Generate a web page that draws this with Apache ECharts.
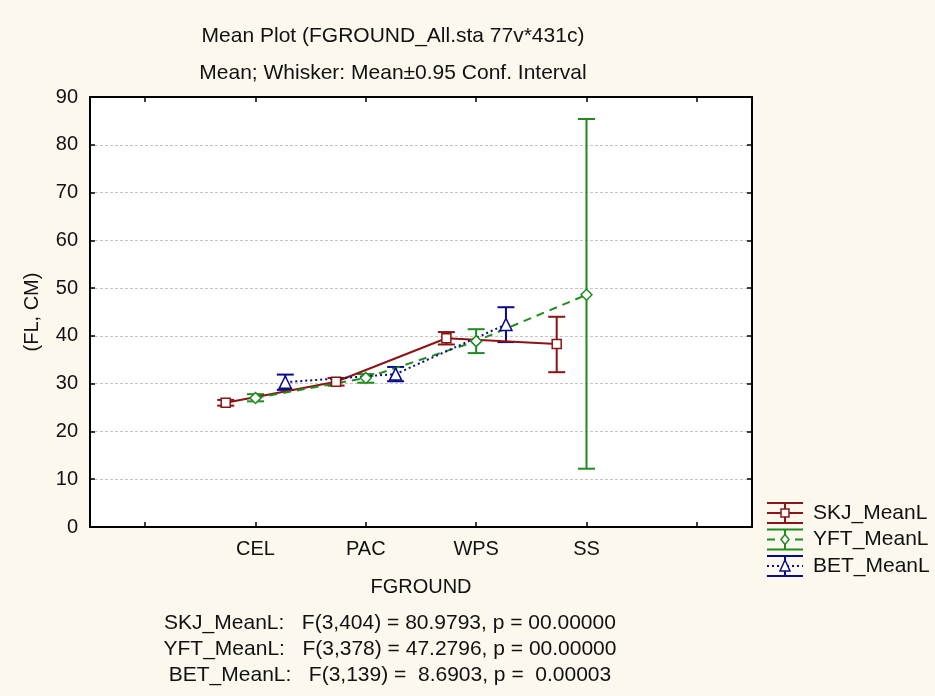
<!DOCTYPE html>
<html>
<head>
<meta charset="utf-8">
<title>Mean Plot</title>
<script src="https://cdn.jsdelivr.net/npm/echarts@6/dist/echarts.min.js"></script>
<style>
  html, body { margin: 0; padding: 0; background: #fdf8ee; }
  #main { width: 935px; height: 696px; }
</style>
</head>
<body>
<div id="main"></div>
<script>
// groups on the x axis (blank slots at both ends like the original)
const categories = ['CEL', 'PAC', 'WPS', 'SS']
const axisSlots = [''].concat(categories, [''])

// means and 95% confidence limits
const skjMean = [26.0, 30.4, 39.5, 38.3]
const skjLow = [25.4, 29.6, 38.2, 32.4]
const skjHigh = [26.6, 31.2, 40.8, 44.0]

const yftMean = [27.0, 31.2, 38.9, 48.6]
const yftLow = [26.3, 30.2, 36.4, 12.2]
const yftHigh = [27.8, 32.0, 41.4, 85.4]

const betMean = [30.3, 32.0, 42.4]
const betLow = [28.7, 30.5, 38.7]
const betHigh = [31.9, 33.5, 46.0]

const statLines = [
  'SKJ_MeanL:   F(3,404) = 80.9793, p = 00.00000',
  'YFT_MeanL:   F(3,378) = 47.2796, p = 00.00000',
  'BET_MeanL:   F(3,139) =  8.6903, p =  0.00003'
]

const FONT = '"Liberation Sans", Arial, sans-serif'
const FS = 20
const FS_TEXT = 21
const seriesDefs = [
  { name: 'SKJ_MeanL', color: '#8b1414', symbol: 'rect', size: 9, line: 'solid', shift: -0.27, mean: skjMean, low: skjLow, high: skjHigh },
  { name: 'YFT_MeanL', color: '#1e8c1e', symbol: 'diamond', size: 11, line: [8, 6], shift: 0, mean: yftMean, low: yftLow, high: yftHigh },
  { name: 'BET_MeanL', color: '#0a0a8c', symbol: 'triangle', size: 12, line: [2, 3], shift: 0.27, mean: betMean, low: betLow, high: betHigh }
]

// x position on the hidden value axis (slot centre + series shift)
function xPos (i, shift) {
  return i + 1.5 + shift
}

const chart = echarts.init(document.getElementById('main'))

const series = []
seriesDefs.forEach(def => {
  const barData = def.mean.map((m, i) => [xPos(i, def.shift), def.low[i], def.high[i]])
  series.push({
    type: 'custom',
    name: def.name + '_ci',
    xAxisIndex: 2,
    yAxisIndex: 0,
    z: 2,
    silent: true,
    data: barData,
    renderItem: (params, api) => {
      const top = api.coord([api.value(0), api.value(2)])
      const bot = api.coord([api.value(0), api.value(1)])
      const half = 8.5
      const st = { stroke: def.color, lineWidth: 2 }
      return {
        type: 'group',
        children: [
          { type: 'line', shape: { x1: top[0], y1: top[1], x2: bot[0], y2: bot[1] }, style: st },
          { type: 'line', shape: { x1: top[0] - half, y1: top[1], x2: top[0] + half, y2: top[1] }, style: st },
          { type: 'line', shape: { x1: bot[0] - half, y1: bot[1], x2: bot[0] + half, y2: bot[1] }, style: st }
        ]
      }
    }
  })
  series.push({
    type: 'line',
    name: def.name,
    xAxisIndex: 2,
    yAxisIndex: 0,
    z: 3,
    data: def.mean.map((m, i) => [xPos(i, def.shift), m]),
    symbol: def.symbol,
    symbolSize: def.size,
    showAllSymbol: true,
    itemStyle: { color: '#ffffff', borderColor: def.color, borderWidth: 1.5 },
    lineStyle: { color: def.color, width: 2, type: def.line }
  })
})

// legend drawn by hand so it can show the whisker icons
const legendItems = []
const legX1 = 767
const legX2 = 803
const legMid = (legX1 + legX2) / 2
seriesDefs.forEach((def, k) => {
  const y = 513 + k * 26.5
  const st = { stroke: def.color, lineWidth: 2 }
  legendItems.push(
    { type: 'line', shape: { x1: legX1, y1: y - 10, x2: legX2, y2: y - 10 }, style: st },
    { type: 'line', shape: { x1: legX1, y1: y + 10, x2: legX2, y2: y + 10 }, style: st },
    { type: 'line', shape: { x1: legMid, y1: y - 10, x2: legMid, y2: y + 10 }, style: st },
    { type: 'line', shape: { x1: legX1, y1: y, x2: legX2, y2: y }, style: { stroke: def.color, lineWidth: 2, lineDash: def.line === 'solid' ? null : def.line } }
  )
  let mark
  if (def.symbol === 'rect') {
    mark = { type: 'rect', shape: { x: legMid - 4, y: y - 4, width: 8, height: 8 } }
  } else if (def.symbol === 'diamond') {
    mark = { type: 'polygon', shape: { points: [[legMid, y - 5], [legMid + 4, y], [legMid, y + 5], [legMid - 4, y]] } }
  } else {
    mark = { type: 'polygon', shape: { points: [[legMid, y - 6], [legMid + 5, y + 5], [legMid - 5, y + 5]] } }
  }
  mark.style = { fill: '#ffffff', stroke: def.color, lineWidth: 1.5 }
  legendItems.push(mark)
  legendItems.push({
    type: 'text', x: 813, y: y,
    style: { text: def.name, font: FS_TEXT + 'px ' + FONT, fill: '#111', textVerticalAlign: 'middle' }
  })
})

const statItems = statLines.map((txt, k) => ({
  type: 'text', x: 390, y: 623 + k * 26,
  style: { text: txt, font: FS_TEXT + 'px ' + FONT, fill: '#111', textAlign: 'center', textVerticalAlign: 'middle' }
}))

const tickStyle = { show: true, inside: true, length: 5, lineStyle: { color: '#000', width: 1.5 } }
const lineStyleAxis = { show: true, onZero: false, lineStyle: { color: '#000', width: 2 } }
const labelText = { fontFamily: FONT, fontSize: FS, color: '#111' }
const titleText = { fontFamily: FONT, fontSize: FS_TEXT, fontWeight: 'normal', color: '#111' }

const option = {
  backgroundColor: '#fdf8ee',
  animation: false,
  title: [
    { text: 'Mean Plot (FGROUND_All.sta 77v*431c)', left: 388, textAlign: 'center', top: 21, textStyle: titleText },
    { text: 'Mean; Whisker: Mean±0.95 Conf. Interval', left: 388, textAlign: 'center', top: 58, textStyle: titleText }
  ],
  grid: { left: 90, right: 183, top: 97, bottom: 169, show: true, backgroundColor: '#ffffff', borderWidth: 0 },
  xAxis: [
    {
      type: 'category',
      data: axisSlots,
      position: 'bottom',
      boundaryGap: true,
      name: 'FGROUND',
      nameLocation: 'middle',
      nameGap: 50,
      nameTextStyle: labelText,
      axisLine: lineStyleAxis,
      axisTick: Object.assign({ alignWithLabel: true }, tickStyle),
      axisLabel: Object.assign({ margin: 12 }, labelText),
      splitLine: { show: false }
    },
    {
      type: 'category',
      data: axisSlots,
      position: 'top',
      boundaryGap: true,
      axisLine: lineStyleAxis,
      axisTick: Object.assign({ alignWithLabel: true }, tickStyle),
      axisLabel: { show: false },
      splitLine: { show: false }
    },
    {
      type: 'value',
      min: 0,
      max: axisSlots.length,
      show: false
    }
  ],
  yAxis: [
    {
      type: 'value',
      min: 0,
      max: 90,
      interval: 10,
      position: 'left',
      name: '(FL, CM)',
      nameLocation: 'middle',
      nameRotate: 90,
      nameGap: 48,
      nameTextStyle: labelText,
      axisLine: lineStyleAxis,
      axisTick: tickStyle,
      axisLabel: Object.assign({ margin: 12 }, labelText),
      splitLine: { show: true, lineStyle: { color: '#c4c4c4', width: 1, type: [3, 2] } }
    },
    {
      type: 'value',
      min: 0,
      max: 90,
      interval: 10,
      position: 'right',
      axisLine: lineStyleAxis,
      axisTick: tickStyle,
      axisLabel: { show: false },
      splitLine: { show: false }
    }
  ],
  graphic: legendItems.concat(statItems),
  series: series
}

chart.setOption(option)
</script>
</body>
</html>
